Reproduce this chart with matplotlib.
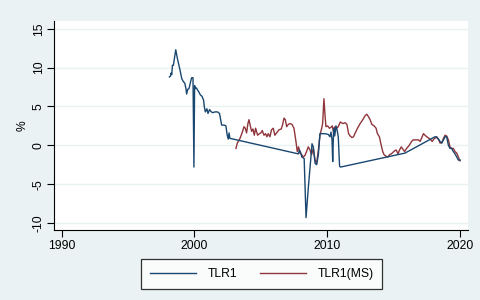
import matplotlib
matplotlib.use("Agg")
import matplotlib.pyplot as plt
from matplotlib.lines import Line2D

plt.rcParams["font.family"] = ["Liberation Sans", "DejaVu Sans"]

# --- TLR1 (blue) ---
tlr1_year = [1998.12, 1998.2, 1998.25, 1998.3, 1998.35, 1998.42, 1998.6, 1998.72, 1998.92,
             1999.05, 1999.17, 1999.28, 1999.37, 1999.42, 1999.5, 1999.6, 1999.72, 1999.8,
             1999.9, 1999.97, 2000.02, 2000.07, 2000.15, 2000.25, 2000.33, 2000.45, 2000.58,
             2000.7, 2000.75, 2000.83, 2000.95, 2001.03, 2001.15, 2001.28, 2001.4, 2001.55,
             2001.75, 2001.9, 2002.06, 2002.25, 2002.38, 2002.48, 2002.56, 2002.62, 2002.68,
             2007.84, 2007.93, 2008.03, 2008.1, 2008.28, 2008.42, 2008.6, 2008.77, 2008.87,
             2008.97, 2009.1, 2009.22, 2009.35, 2009.47, 2009.6, 2009.85, 2010.1, 2010.22,
             2010.3, 2010.38, 2010.43, 2010.5, 2010.58, 2010.68, 2010.78, 2010.85, 2010.95,
             2011.02, 2015.88, 2018.14, 2018.27, 2018.4, 2018.52, 2018.65, 2018.78, 2018.9,
             2019.02, 2019.15, 2019.27, 2019.4, 2019.52, 2019.65, 2019.78, 2019.9, 2020.03]
tlr1_val = [8.8, 8.9, 9.3, 9.1, 10.3, 10.3, 12.3, 11.2, 9.7,
            8.6, 8.2, 8.0, 7.3, 6.6, 7.2, 7.3, 8.2, 8.7,
            8.7, -2.8, 7.7, 7.3, 7.4, 7.1, 6.9, 6.5, 6.3,
            5.8, 5.0, 4.3, 4.7, 4.1, 4.6, 4.3, 4.2, 4.3,
            4.3, 4.1, 2.6, 2.6, 2.5, 1.3, 0.8, 1.6, 0.9,
            -1.1, -0.6, -1.0, -1.5, -1.7, -9.3, -5.3, -1.9, 0.2,
            -0.2, -2.3, -2.5, -1.2, 1.5, 1.5, 1.5, 1.4, 1.1,
            1.7, 0.7, -2.1, 2.2, 1.2, 2.5, 1.8, 1.1, -2.7,
            -2.8, -1.0, 1.1, 1.1, 0.8, 0.5, 0.3, 0.7, 1.1,
            1.1, 0.0, -0.4, -0.4, -0.8, -1.1, -1.5, -1.9, -1.9]

# --- TLR1(MS) (red) ---
ms_year = [2003.14, 2003.24, 2003.39, 2003.49, 2003.64, 2003.74, 2003.84, 2003.94, 2004.04,
           2004.12, 2004.22, 2004.32, 2004.42, 2004.52, 2004.62, 2004.77, 2004.9, 2005.02,
           2005.12, 2005.25, 2005.37, 2005.47, 2005.57, 2005.7, 2005.82, 2005.95, 2006.07,
           2006.2, 2006.38, 2006.55, 2006.66, 2006.76, 2006.86, 2006.96, 2007.09, 2007.21,
           2007.36, 2007.51, 2007.66, 2007.76, 2007.86, 2007.96, 2008.09, 2008.21, 2008.34,
           2008.46, 2008.59, 2008.72, 2008.84, 2008.97, 2009.1, 2009.22, 2009.35, 2009.47,
           2009.6, 2009.67, 2009.77, 2009.85, 2009.92, 2010.05, 2010.18, 2010.3, 2010.4,
           2010.48, 2010.6, 2010.73, 2010.85, 2011.0, 2011.2, 2011.38, 2011.5, 2011.63,
           2011.75, 2011.88, 2012.0, 2012.13, 2012.3, 2012.5, 2012.7, 2012.87, 2013.0,
           2013.12, 2013.25, 2013.38, 2013.55, 2013.7, 2013.8, 2013.95, 2014.05, 2014.2,
           2014.3, 2014.45, 2014.6, 2014.72, 2014.85, 2014.97, 2015.1, 2015.22, 2015.35,
           2015.47, 2015.6, 2015.72, 2015.85, 2016.0, 2016.2, 2016.38, 2016.5, 2016.7,
           2016.9, 2017.02, 2017.15, 2017.27, 2017.45, 2017.6, 2017.78, 2017.93, 2018.1,
           2018.27, 2018.4, 2018.52, 2018.65, 2018.78, 2018.9, 2019.02, 2019.15, 2019.27,
           2019.4, 2019.52, 2019.65, 2019.78, 2019.9, 2020.03]
ms_val = [-0.4, 0.3, 0.7, 1.1, 1.8, 2.4, 2.2, 1.6, 2.8,
          3.3, 2.5, 1.8, 2.1, 1.3, 2.2, 1.3, 1.5, 1.6,
          1.9, 1.3, 1.5, 1.1, 1.5, 1.1, 2.0, 2.2, 1.3,
          1.6, 2.0, 2.1, 2.7, 3.5, 3.3, 2.4, 2.7, 2.8,
          2.7, 2.2, 0.5, -0.8, -0.2, -1.0, -1.2, -1.5, -1.3,
          -0.8, -0.2, -0.6, -1.2, -0.4, -1.9, -2.3, -0.6, 1.3,
          2.2, 2.8, 6.0, 3.9, 2.4, 2.5, 2.2, 2.3, 2.5,
          1.8, 2.4, 2.2, 2.4, 3.0, 2.8, 2.9, 2.7, 1.5,
          1.2, 1.0, 1.1, 1.6, 2.2, 2.8, 3.3, 3.8, 4.0,
          3.7, 3.3, 2.7, 2.5, 2.2, 1.5, 1.1, 0.3, -0.8,
          -1.2, -1.4, -1.5, -1.2, -1.1, -0.9, -0.7, -0.6, -1.1,
          -0.6, -0.2, -0.5, -0.8, -0.4, 0.0, 0.5, 0.7, 0.7,
          0.7, 0.5, 1.0, 1.5, 1.2, 1.0, 0.8, 0.5, 0.9,
          1.0, 0.8, 0.3, 0.3, 0.9, 1.3, 1.2, 0.7, -0.2,
          -0.4, -0.4, -0.8, -1.0, -1.5, -2.0]

x_ticks = [1990, 2000, 2010, 2020]
y_ticks = [-10, -5, 0, 5, 10, 15]

BG = "#eaf2f3"
BLUE = "#1a476f"
RED = "#90353b"

fig = plt.figure(figsize=(4.81, 3.0), dpi=100, facecolor=BG)
ax = fig.add_axes([0.1133, 0.2333, 0.8597, 0.6967])
ax.set_facecolor("white")

ax.plot(ms_year, ms_val, color=RED, lw=1.0, zorder=3)
ax.plot(tlr1_year, tlr1_val, color=BLUE, lw=1.0, zorder=4)

ax.set_xlim(1989.46, 2020.63)
ax.set_ylim(-10.9, 16.0)
ax.set_xticks(x_ticks)
ax.set_yticks(y_ticks)
ax.set_yticklabels([str(v) for v in y_ticks], rotation=90, va="center")
ax.tick_params(axis="both", labelsize=8.7, length=5, width=0.8, color="black")
ax.tick_params(axis="y", pad=2)
ax.tick_params(axis="x", pad=2)
ax.grid(axis="y", color=BG, lw=1.0)
ax.set_axisbelow(True)
for s in ["top", "right"]:
    ax.spines[s].set_visible(False)
for s in ["left", "bottom"]:
    ax.spines[s].set_linewidth(0.8)
ax.set_ylabel("%", fontsize=8.7, labelpad=3)

handles = [Line2D([], [], color=BLUE, lw=1.0), Line2D([], [], color=RED, lw=1.0)]
leg = fig.legend(handles, ["TLR1", "TLR1(MS)"], ncol=2, loc="center",
                 bbox_to_anchor=(0.544, 0.0867), fontsize=8.7, frameon=True,
                 fancybox=False, edgecolor="black", handlelength=3.8,
                 handletextpad=0.95, columnspacing=1.9, borderpad=0.75,
                 borderaxespad=0)
leg.get_frame().set_linewidth(0.9)

fig.savefig("out.png", dpi=100, facecolor=BG)
